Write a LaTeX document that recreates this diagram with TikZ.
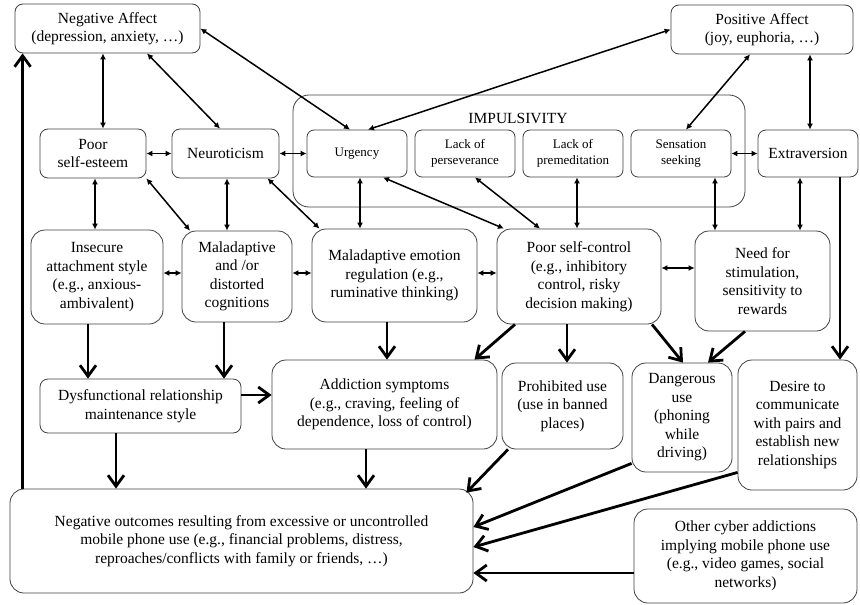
\documentclass[tikz,border=0pt]{standalone}
\usepackage{fontspec}
\setmainfont{Liberation Serif}
\usetikzlibrary{arrows.meta}

\begin{document}
\begin{tikzpicture}[x=1pt,y=-1pt,
	box/.style={draw=black!75, line width=0.8pt, rounded corners=8pt, align=center, inner sep=2pt, font=\fontsize{15.5}{18.5}\selectfont},
	sub/.style={box, rounded corners=7pt, font=\fontsize{13}{15.5}\selectfont, minimum width=100pt, minimum height=47pt},
	big/.style={box, rounded corners=14pt},
	dbl/.style={{Latex[length=6pt,width=6pt]}-{Latex[length=6pt,width=6pt]}, line width=1.5pt},
	thk/.style={-{Straight Barb[length=11pt,width=16pt]}, line width=2.8pt}]
	\useasboundingbox (0,0) rectangle (860,605);

	\node[box, minimum width=185pt, minimum height=49pt] (na) at (107.5,28.5) {Negative Affect\\(depression, anxiety, …)};
	\node[box, minimum width=182pt, minimum height=49pt] (pa) at (762,29.5) {Positive Affect\\(joy, euphoria, …)};

	\node[draw=black!75, line width=0.8pt, rounded corners=16pt, minimum width=452pt, minimum height=112pt] (imp) at (519,151) {};
	\node[font=\fontsize{15.5}{18}\selectfont] (implbl) at (518,118) {IMPULSIVITY};
	\node[box, minimum width=106pt, minimum height=49pt] (pse) at (93,153.5) {Poor\\self-esteem};
	\node[box, minimum width=107pt, minimum height=49pt] (neu) at (225.5,153.5) {Neuroticism};
	\node[sub] (urg) at (357,153.5) {Urgency};
	\node[sub] (lper) at (465,153.5) {Lack of\\perseverance};
	\node[sub] (lpre) at (573,153.5) {Lack of\\premeditation};
	\node[sub] (sen) at (681,153.5) {Sensation\\seeking};
	\node[box, minimum width=100pt, minimum height=47pt] (ext) at (808,153.5) {Extraversion};

	\node[big, minimum width=132pt, minimum height=94pt] (ins) at (97,277) {Insecure\\attachment style\\(e.g., anxious-\\ambivalent)};
	\node[big, minimum width=110pt, minimum height=91pt] (mco) at (237,276.5) {Maladaptive\\and /or\\distorted\\cognitions};
	\node[big, minimum width=165pt, minimum height=93pt] (mer) at (394.5,275.5) {Maladaptive emotion\\regulation (e.g.,\\ruminative thinking)};
	\node[big, minimum width=164pt, minimum height=95pt] (psc) at (579,276.5) {Poor self-control\\(e.g., inhibitory\\control, risky\\decision making)};
	\node[big, minimum width=135pt, minimum height=100pt] (nfs) at (762.5,281) {Need for\\stimulation,\\sensitivity to\\rewards};

	\node[box, minimum width=201pt, minimum height=54pt] (dys) at (140.5,406) {Dysfunctional relationship\\maintenance style};
	\node[big, minimum width=225pt, minimum height=89pt] (add) at (384.5,404.5) {Addiction symptoms\\(e.g., craving, feeling of\\dependence, loss of control)};
	\node[big, minimum width=121pt, minimum height=86pt] (pro) at (562.5,406) {Prohibited use\\(use in banned\\places)};
	\node[big, minimum width=100pt, minimum height=109pt] (dan) at (682,417.5) {Dangerous\\use\\(phoning\\while\\driving)};
	\node[big, minimum width=119pt, minimum height=130pt] (des) at (797.5,425) {Desire to\\communicate\\with pairs and\\establish new\\relationships};

	\node[big, minimum width=463pt, minimum height=104pt] (neg) at (241.5,541) {Negative outcomes resulting from excessive or uncontrolled\\mobile phone use (e.g., financial problems, distress,\\reproaches/conflicts with family or friends, …)};
	\node[big, minimum width=223pt, minimum height=94pt] (oth) at (745.5,556) {Other cyber addictions\\implying mobile phone use\\(e.g., video games, social\\networks)};

	\draw[dbl] ([xshift=10pt]pse.north |- na.south) -- ([xshift=10pt]pse.north);
	\draw[dbl] ([xshift=39.5pt]na.south) -- ([xshift=-5.5pt]neu.north);
	\draw[dbl] (na.east) -- ([xshift=-7pt]urg.north);
	\draw[dbl] (pa.west) -- ([xshift=11pt]urg.north);
	\draw[dbl] ([xshift=-12pt]pa.south) -- ([xshift=5pt]sen.north);
	\draw[dbl] ([xshift=2pt]ext.north |- pa.south) -- ([xshift=2pt]ext.north);
	\draw[dbl] (pse.east) -- (neu.west);
	\draw[dbl] (neu.east) -- (urg.west);
	\draw[dbl] (sen.east) -- (ext.west);
	\draw[dbl] ([xshift=2pt]pse.south) -- ([xshift=2pt]pse.south |- ins.north);
	\draw[dbl] (pse.south east) -- ([xshift=-47pt]mco.north);
	\draw[dbl] ([xshift=1.5pt]neu.south) -- ([xshift=1.5pt]neu.south |- mco.north);
	\draw[dbl] ([xshift=42pt]neu.south) -- ([xshift=-75pt]mer.north);
	\draw[dbl] ([xshift=3pt]urg.south) -- ([xshift=3pt]urg.south |- mer.north);
	\draw[dbl] ([xshift=26pt]urg.south) -- ([xshift=-75pt]psc.north);
	\draw[dbl] ([xshift=10pt]lper.south) -- ([xshift=-39pt]psc.north);
	\draw[dbl] ([xshift=4pt]lpre.south) -- ([xshift=4pt]lpre.south |- psc.north);
	\draw[dbl] ([xshift=34pt]sen.south) -- ([xshift=34pt]sen.south |- nfs.north);
	\draw[dbl] ([xshift=-8pt]ext.south) -- ([xshift=-8pt]ext.south |- nfs.north);
	\draw[dbl] ([yshift=4pt]ins.east) -- ([yshift=4pt]ins.east -| mco.west);
	\draw[dbl] ([yshift=3.5pt]mco.east) -- ([yshift=3.5pt]mco.east -| mer.west);
	\draw[dbl] ([yshift=2.5pt]mer.east) -- ([yshift=2.5pt]mer.east -| psc.west);
	\draw[dbl] ([yshift=8.5pt]psc.east) -- ([yshift=8.5pt]psc.east -| nfs.west);

	\draw[thk] ([xshift=13pt]neg.north west) -- ([xshift=13pt]neg.north west |- na.south);
	\draw[thk] ([xshift=32pt]ext.south) -- ([xshift=32pt]ext.south |- des.north);
	\draw[thk] ([xshift=-9pt]ins.south) -- ([xshift=-9pt]ins.south |- dys.north);
	\draw[thk] ([xshift=-13pt]mco.south) -- ([xshift=-13pt]mco.south |- dys.north);
	\draw[thk] ([yshift=11pt]dys.east) -- ([yshift=11pt]dys.east -| add.west);
	\draw[thk] ([xshift=-7.5pt]mer.south) -- ([xshift=-7.5pt]mer.south |- add.north);
	\draw[thk] ([xshift=-64pt]psc.south) -- ([xshift=90pt]add.north);
	\draw[thk] ([xshift=-12pt]psc.south) -- ([xshift=-12pt]psc.south |- pro.north);
	\draw[thk] ([xshift=73pt]psc.south) -- ([xshift=1pt]dan.north);
	\draw[thk] ([xshift=-17.5pt]nfs.south) -- ([xshift=26pt]dan.north);
	\draw[thk] ([xshift=-24.5pt]dys.south) -- ([xshift=-24.5pt]dys.south |- neg.north);
	\draw[thk] ([xshift=-18.5pt]add.south) -- ([xshift=-18.5pt]add.south |- neg.north);
	\draw[thk] ([xshift=-54.5pt]pro.south) -- ([shift={(-7pt,-4pt)}]neg.north east);
	\draw[thk] ([yshift=9pt]dan.south west) -- ([yshift=14pt]neg.east);
	\draw[thk] ([yshift=18pt]des.south west) -- ([yshift=-6pt]neg.east);
	\draw[thk] ([yshift=-17pt]oth.west) -- ([yshift=-17pt]oth.west -| neg.east);
\end{tikzpicture}
\end{document}
